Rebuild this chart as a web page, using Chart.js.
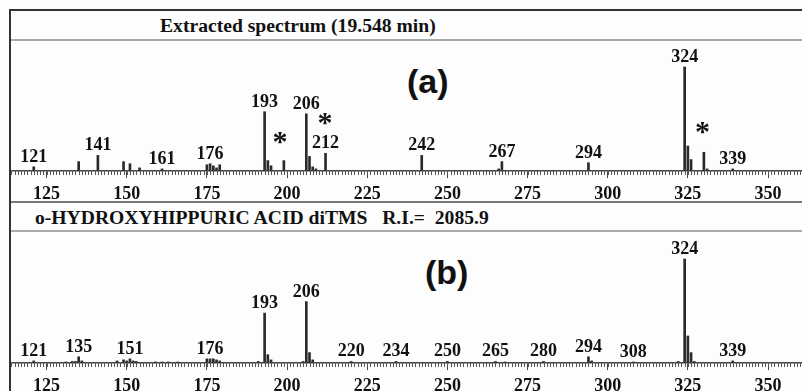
<!DOCTYPE html>
<html>
<head>
<meta charset="utf-8">
<script src="https://cdn.jsdelivr.net/npm/chart.js@4/dist/chart.umd.min.js"></script>
<style>
  body { margin: 0; background: #fff; }
  #wrap { position: relative; width: 802px; height: 391px; overflow: hidden; background: #fdfdfd; }
  .ln { position: absolute; }
  .title { position: absolute; font-family: 'Liberation Serif', serif; font-weight: bold; font-size: 18px;
           line-height: 18px; color: #111; white-space: pre; transform: scaleX(1.09); transform-origin: left center; }
  .tag { position: absolute; font-family: 'Liberation Sans', Arial, sans-serif; font-weight: bold; font-size: 34px;
         line-height: 34px; color: #111; }
  canvas { position: absolute; }
</style>
</head>
<body>
<div id="wrap">
  <div class="ln" style="left:9px;top:9px;width:793px;height:2px;background:#333"></div>
  <div class="ln" style="left:9px;top:9px;width:2px;height:382px;background:#333"></div>
  <div class="ln" style="left:11px;top:39px;width:791px;height:2px;background:#aaa"></div>
  <div class="ln" style="left:11px;top:201px;width:791px;height:2px;background:#777"></div>
  <div class="ln" style="left:11px;top:230px;width:791px;height:2px;background:#aaa"></div>
  <div class="title" style="left:160px;top:17px">Extracted spectrum (19.548 min)</div>
  <div class="title" style="left:35px;top:209px">o-HYDROXYHIPPURIC ACID diTMS   R.I.=  2085.9</div>
  <div class="tag" style="left:407px;top:64px">(a)</div>
  <div class="tag" style="left:425px;top:255px">(b)</div>
  <canvas id="chartA" width="791" height="161" style="left:11px;top:41px"></canvas>
  <canvas id="chartB" width="791" height="159" style="left:11px;top:232px"></canvas>
</div>
<script>
// extracted spectrum (a)
const mzA = [121, 135, 141, 149, 151, 154, 161, 175, 176, 177, 178, 179, 193, 194, 195, 199,
             206, 207, 208, 209, 212, 242, 266, 267, 294, 324, 325, 326, 330, 331, 339];
const intA = [4, 9, 15, 9, 7, 3, 2, 6, 7, 5, 3, 6, 57, 10, 5, 10,
              55, 14, 4, 2, 17, 15, 2, 9, 8, 100, 24, 11, 18, 2, 2];
const labelsA = [121, 141, 161, 176, 193, 206, 212, 242, 267, 294, 324, 339];
const starMz = [197.8, 211.8, 329.6];
const starY = [34, 52, 43];

// library spectrum (b)
const mzB = [121, 131, 133, 134, 135, 136, 147, 149, 150, 151, 152, 153, 159, 161, 163, 166,
             175, 176, 177, 178, 179, 191, 193, 194, 195, 205, 206, 207, 208, 220, 234, 250,
             265, 268, 280, 294, 295, 308, 322, 324, 325, 326, 327, 339];
const intB = [2, 1, 1.5, 1.5, 6, 2, 2, 3, 2, 4, 2, 1.5, 1, 1, 1, 1,
              4, 4, 4, 3, 2, 1.5, 48, 8, 3, 1.5, 59, 10, 3, 1.5, 1.5, 1.5,
              1.5, 1, 1.5, 6, 2, 1, 1.5, 100, 26, 10, 1.5, 2];
const labelsB = [121, 135, 151, 176, 193, 206, 220, 234, 250, 265, 280, 294, 308, 324, 339];

const tickValues = [125, 150, 175, 200, 225, 250, 275, 300, 325, 350];
const xMin = 113.9, xMax = 360.6;

Chart.defaults.font.family = "'Liberation Serif', serif";
Chart.defaults.color = '#111';

// minor ticks, peak labels and asterisks
const spectrumMarks = {
  id: 'spectrumMarks',
  afterDatasetsDraw(chart, args, opts) {
    const ctx = chart.ctx;
    const xs = chart.scales.x, ys = chart.scales.y;
    const bottom = chart.chartArea.bottom;
    ctx.save();
    ctx.strokeStyle = '#555';
    ctx.lineWidth = 1;
    ctx.beginPath();
    for (let v = Math.ceil(xs.min); v <= xs.max; v++) {
      const px = Math.round(xs.getPixelForValue(v)) + 0.5;
      ctx.moveTo(px, bottom - 1);
      ctx.lineTo(px, bottom + 4);
    }
    ctx.stroke();

    const pts = chart.data.datasets[0].data;
    ctx.fillStyle = '#111';
    ctx.font = 'bold 18px "Liberation Serif"';
    ctx.textAlign = 'center';
    ctx.textBaseline = 'alphabetic';
    opts.labels.forEach(m => {
      const p = pts.find(d => d.x === m);
      if (!p) return;
      ctx.fillText(String(m), xs.getPixelForValue(m), ys.getPixelForValue(p.y) - 5);
    });

    ctx.font = 'bold 30px "Liberation Serif"';
    (opts.starMz || []).forEach((m, i) => {
      ctx.fillText('*', xs.getPixelForValue(m), ys.getPixelForValue(opts.starY[i]) + 15);
    });
    ctx.restore();
  }
};

function makeSpectrum(id, mz, inten, labels, yMax, axisH, stars) {
  return new Chart(document.getElementById(id), {
    type: 'bar',
    data: {
      datasets: [{
        data: mz.map((m, i) => ({ x: m, y: inten[i] })),
        backgroundColor: '#2a2a2a',
        barThickness: 2,
        borderWidth: 0
      }]
    },
    options: {
      responsive: false,
      animation: false,
      layout: { padding: 0 },
      plugins: {
        legend: { display: false },
        tooltip: { enabled: false },
        spectrumMarks: { labels: labels, starMz: stars ? stars.mz : [], starY: stars ? stars.y : [] }
      },
      scales: {
        x: {
          type: 'linear',
          offset: false,
          min: xMin,
          max: xMax,
          afterBuildTicks: s => { s.ticks = tickValues.map(v => ({ value: v })); },
          afterFit: s => { s.height = axisH; },
          ticks: {
            font: { size: 18, weight: 'bold' },
            color: '#111',
            padding: 6,
            maxRotation: 0,
            autoSkip: false,
            callback: v => String(v)
          },
          grid: { drawOnChartArea: false, offset: false, tickLength: 7, color: '#444', lineWidth: 1 },
          border: { color: '#444', width: 1.5 }
        },
        y: { display: false, min: 0, max: yMax }
      }
    },
    plugins: [spectrumMarks]
  });
}

makeSpectrum('chartA', mzA, intA, labelsA, 125, 31, { mz: starMz, y: starY });
makeSpectrum('chartB', mzB, intB, labelsB, 126, 28, null);
</script>
</body>
</html>
